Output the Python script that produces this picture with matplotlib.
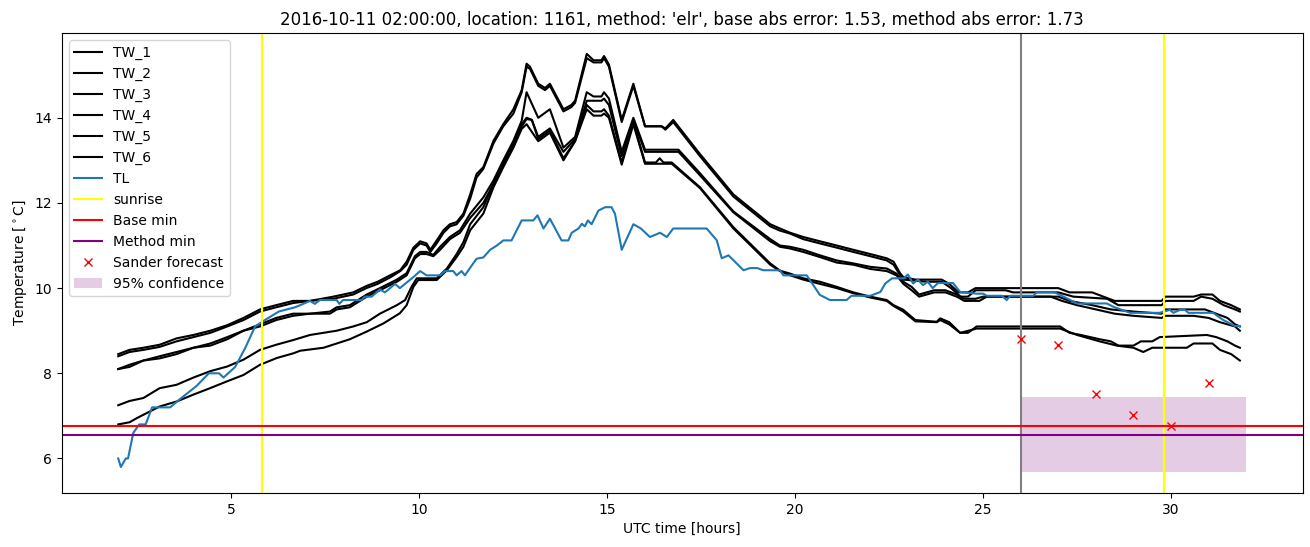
import numpy as np
import matplotlib
matplotlib.use("Agg")
import matplotlib.pyplot as plt

# ---------------- data (hours UTC, temperature degC) ----------------
TW1 = [(2.0, 8.45), (2.3, 8.55), (2.67, 8.6), (3.1, 8.67), (3.55, 8.82), (4.0, 8.9), (4.45, 9.0),
       (4.9, 9.13), (5.33, 9.3), (5.77, 9.5), (6.2, 9.6), (6.65, 9.7), (7.1, 9.7), (7.72, 9.8),
       (8.25, 9.9), (8.6, 10.05), (8.9, 10.15), (9.23, 10.3), (9.5, 10.42), (9.67, 10.62),
       (9.85, 10.95), (10.03, 11.1), (10.2, 11.05), (10.3, 10.9), (10.47, 11.12), (10.65, 11.36),
       (10.82, 11.5), (11.0, 11.55), (11.18, 11.75), (11.36, 12.2), (11.53, 12.68), (11.71, 12.84),
       (11.98, 13.46), (12.24, 13.85), (12.51, 14.2), (12.73, 14.65), (12.86, 15.27), (12.95, 15.2),
       (13.17, 14.8), (13.35, 14.7), (13.48, 14.8), (13.6, 14.6), (13.84, 14.2), (14.05, 14.3),
       (14.15, 14.4), (14.46, 15.5), (14.64, 15.35), (14.85, 15.35), (14.92, 15.45), (15.05, 15.25),
       (15.39, 13.95), (15.7, 14.8), (16.01, 13.8), (16.45, 13.8), (16.55, 13.75), (16.76, 13.95),
       (17.47, 13.15), (18.36, 12.2), (19.34, 11.5), (19.6, 11.4), (19.87, 11.3), (20.22, 11.2),
       (20.66, 11.1), (21.11, 11.0), (21.55, 10.9), (22.0, 10.8), (22.44, 10.7), (22.62, 10.62),
       (22.8, 10.34), (22.88, 10.26), (23.2, 10.2), (23.9, 10.2), (24.1, 10.1), (24.35, 9.9),
       (24.6, 9.9), (24.8, 10.0), (27.0, 10.0), (27.3, 9.9), (27.9, 9.9), (28.2, 9.8), (28.5, 9.7),
       (29.75, 9.7), (29.85, 9.8), (30.6, 9.8), (30.8, 9.85), (31.1, 9.85), (31.3, 9.7), (31.6, 9.6),
       (31.83, 9.5)]
TW2 = [(2.0, 8.4), (2.3, 8.5), (2.67, 8.55), (3.1, 8.62), (3.55, 8.75), (4.0, 8.85), (4.45, 8.95),
       (4.9, 9.1), (5.33, 9.25), (5.77, 9.45), (6.2, 9.55), (6.65, 9.65), (7.1, 9.7), (7.72, 9.75),
       (8.25, 9.85), (8.6, 10.0), (8.9, 10.1), (9.23, 10.25), (9.5, 10.4), (9.67, 10.55),
       (9.85, 10.9), (10.03, 11.05), (10.2, 11.0), (10.3, 10.85), (10.47, 11.05), (10.65, 11.3),
       (10.82, 11.45), (11.0, 11.5), (11.18, 11.7), (11.36, 12.1), (11.53, 12.6), (11.71, 12.8),
       (11.98, 13.4), (12.24, 13.8), (12.51, 14.1), (12.73, 14.6), (12.86, 15.2), (12.95, 15.15),
       (13.17, 14.75), (13.35, 14.65), (13.48, 14.75), (13.6, 14.55), (13.84, 14.15), (14.05, 14.25),
       (14.15, 14.35), (14.46, 15.4), (14.64, 15.3), (14.85, 15.3), (14.92, 15.4), (15.05, 15.2),
       (15.39, 13.9), (15.7, 14.75), (16.01, 13.8), (16.45, 13.8), (16.55, 13.72), (16.76, 13.9),
       (17.47, 13.1), (18.36, 12.15), (19.34, 11.45), (19.6, 11.35), (19.87, 11.28), (20.22, 11.15),
       (20.66, 11.05), (21.11, 10.95), (21.55, 10.85), (22.0, 10.75), (22.44, 10.65), (22.62, 10.55),
       (22.8, 10.3), (22.88, 10.2), (23.5, 10.15), (23.9, 10.15), (24.15, 10.0), (24.4, 9.8),
       (24.6, 9.8), (24.8, 9.95), (25.6, 9.95), (25.8, 9.9), (27.0, 9.9), (27.4, 9.8), (28.3, 9.75),
       (28.6, 9.6), (29.75, 9.6), (29.85, 9.7), (30.6, 9.7), (30.8, 9.8), (31.1, 9.75), (31.4, 9.6),
       (31.7, 9.5), (31.83, 9.45)]
TW3 = [(2.0, 8.1), (2.3, 8.2), (2.67, 8.3), (3.1, 8.4), (3.55, 8.5), (4.0, 8.6), (4.45, 8.7),
       (4.9, 8.85), (5.33, 9.0), (5.77, 9.15), (6.2, 9.3), (6.65, 9.4), (7.1, 9.4), (7.63, 9.45),
       (7.81, 9.55), (8.16, 9.6), (8.61, 9.85), (8.96, 10.0), (9.41, 10.2), (9.67, 10.35),
       (9.89, 10.75), (10.03, 10.85), (10.2, 10.85), (10.38, 10.78), (10.56, 10.97), (10.82, 11.2),
       (11.09, 11.36), (11.36, 11.75), (11.71, 12.13), (11.98, 12.53), (12.24, 13.0), (12.51, 13.46),
       (12.73, 13.93), (12.86, 14.6), (13.17, 14.0), (13.48, 14.2), (13.84, 13.3), (14.15, 13.55),
       (14.46, 14.6), (14.64, 14.5), (14.85, 14.5), (14.92, 14.6), (15.05, 14.45), (15.39, 13.2),
       (15.7, 14.0), (16.01, 13.25), (16.9, 13.25), (17.47, 12.7), (18.36, 11.8), (19.34, 11.15),
       (19.6, 11.0), (19.87, 10.97), (20.22, 10.9), (20.66, 10.77), (21.11, 10.65), (21.55, 10.58),
       (22.0, 10.5), (22.44, 10.46), (22.7, 10.34), (22.88, 10.15), (23.1, 10.03), (23.3, 9.85),
       (23.7, 9.95), (24.0, 9.95), (24.3, 9.85), (24.5, 9.75), (24.8, 9.75), (25.0, 9.8), (27.0, 9.8),
       (27.3, 9.7), (27.9, 9.6), (28.4, 9.5), (29.0, 9.45), (29.75, 9.4), (29.85, 9.5), (30.6, 9.5),
       (30.9, 9.5), (31.2, 9.4), (31.5, 9.3), (31.7, 9.15), (31.83, 9.1)]
TW4 = [(2.0, 8.1), (2.3, 8.15), (2.67, 8.3), (3.1, 8.35), (3.55, 8.45), (4.0, 8.6), (4.45, 8.65),
       (4.9, 8.8), (5.33, 9.0), (5.77, 9.1), (6.2, 9.25), (6.65, 9.35), (7.1, 9.4), (7.63, 9.4),
       (7.81, 9.5), (8.16, 9.55), (8.61, 9.8), (8.96, 9.95), (9.41, 10.15), (9.67, 10.3),
       (9.89, 10.7), (10.03, 10.8), (10.2, 10.8), (10.38, 10.75), (10.56, 10.9), (10.82, 11.15),
       (11.09, 11.3), (11.36, 11.65), (11.71, 12.0), (11.98, 12.45), (12.24, 12.95), (12.51, 13.4),
       (12.73, 13.85), (12.86, 14.0), (13.0, 13.95), (13.17, 13.55), (13.48, 13.75), (13.84, 13.2),
       (14.15, 13.5), (14.46, 14.4), (14.64, 14.4), (14.85, 14.4), (14.92, 14.45), (15.05, 14.3),
       (15.39, 13.1), (15.7, 13.95), (16.01, 13.2), (16.9, 13.2), (17.47, 12.65), (18.36, 11.78),
       (19.34, 11.1), (19.6, 10.97), (19.87, 10.93), (20.22, 10.85), (20.66, 10.73), (21.11, 10.6),
       (21.55, 10.55), (22.0, 10.45), (22.44, 10.4), (22.7, 10.3), (22.88, 10.1), (23.1, 9.95),
       (23.3, 9.8), (23.7, 9.9), (24.0, 9.9), (24.3, 9.8), (24.5, 9.7), (24.9, 9.7), (25.1, 9.8),
       (26.8, 9.8), (27.1, 9.7), (27.5, 9.6), (28.0, 9.5), (28.5, 9.4), (29.0, 9.35), (29.75, 9.3),
       (29.85, 9.35), (30.6, 9.35), (31.0, 9.3), (31.3, 9.2), (31.7, 9.1), (31.83, 9.0)]
TW5 = [(2.0, 7.25), (2.3, 7.35), (2.67, 7.42), (3.1, 7.65), (3.55, 7.73), (4.0, 7.9), (4.45, 8.05),
       (4.9, 8.16), (5.33, 8.32), (5.77, 8.55), (6.2, 8.67), (6.65, 8.78), (7.1, 8.9), (7.81, 9.0),
       (8.25, 9.1), (8.61, 9.2), (8.96, 9.4), (9.41, 9.6), (9.63, 9.72), (9.8, 10.03), (9.94, 10.23),
       (10.47, 10.23), (10.74, 10.46), (11.0, 10.8), (11.18, 11.08), (11.36, 11.5), (11.71, 11.9),
       (11.98, 12.45), (12.24, 12.9), (12.51, 13.35), (12.73, 13.8), (12.86, 13.97), (13.0, 13.95),
       (13.17, 13.5), (13.48, 13.7), (13.84, 13.05), (14.15, 13.45), (14.46, 14.3), (14.64, 14.15),
       (14.85, 14.15), (14.92, 14.2), (15.05, 14.05), (15.39, 12.95), (15.7, 13.9), (16.01, 12.95),
       (16.3, 12.95), (16.4, 13.05), (16.5, 12.95), (16.72, 12.95), (17.47, 12.37), (18.36, 11.43),
       (19.34, 10.58), (19.6, 10.41), (19.87, 10.34), (20.22, 10.23), (20.66, 10.15), (21.11, 10.03),
       (21.55, 9.9), (22.0, 9.8), (22.44, 9.72), (22.62, 9.6), (22.88, 9.49), (23.2, 9.25),
       (23.77, 9.21), (23.86, 9.29), (24.1, 9.2), (24.39, 8.95), (24.6, 8.95), (24.83, 9.1),
       (27.05, 9.1), (27.3, 8.95), (27.6, 8.9), (28.1, 8.8), (28.4, 8.75), (28.6, 8.65), (29.0, 8.65),
       (29.2, 8.75), (29.5, 8.75), (29.7, 8.85), (30.95, 8.9), (31.2, 8.85), (31.5, 8.75),
       (31.7, 8.65), (31.83, 8.6)]
TW6 = [(2.0, 6.8), (2.3, 6.85), (2.5, 6.95), (3.1, 7.22), (3.56, 7.34), (4.0, 7.5), (4.44, 7.65),
       (4.89, 7.81), (5.33, 7.96), (5.77, 8.2), (6.22, 8.36), (6.66, 8.47), (6.84, 8.53), (7.46, 8.6),
       (7.81, 8.7), (8.16, 8.8), (8.61, 8.98), (9.05, 9.17), (9.49, 9.41), (9.67, 9.6), (9.85, 10.03),
       (9.98, 10.19), (10.47, 10.19), (10.74, 10.42), (11.0, 10.73), (11.18, 10.97), (11.36, 11.36),
       (11.71, 11.75), (11.98, 12.37), (12.24, 12.84), (12.51, 13.3), (12.73, 13.74), (12.86, 13.85),
       (13.17, 13.45), (13.48, 13.65), (13.84, 13.0), (14.15, 13.45), (14.46, 14.2), (14.64, 14.05),
       (14.85, 14.05), (14.92, 14.1), (15.05, 14.0), (15.39, 12.9), (15.7, 13.85), (16.01, 12.92),
       (16.72, 12.92), (17.47, 12.35), (18.36, 11.4), (19.34, 10.55), (19.6, 10.4), (19.87, 10.3),
       (20.22, 10.2), (20.66, 10.1), (21.11, 10.0), (21.55, 9.88), (22.0, 9.78), (22.44, 9.7),
       (22.62, 9.58), (22.88, 9.45), (23.2, 9.22), (23.77, 9.2), (23.86, 9.25), (24.1, 9.15),
       (24.39, 8.95), (24.83, 9.05), (27.05, 9.05), (27.5, 8.9), (28.1, 8.75), (28.56, 8.65),
       (29.0, 8.6), (29.26, 8.5), (29.5, 8.6), (30.42, 8.6), (30.6, 8.7), (31.1, 8.7), (31.3, 8.55),
       (31.6, 8.45), (31.83, 8.3)]
TL = [(2.0, 6.0), (2.07, 5.8), (2.2, 6.0), (2.26, 6.0), (2.4, 6.6), (2.56, 6.8), (2.73, 6.8),
      (2.9, 7.2), (3.38, 7.2), (3.65, 7.4), (4.08, 7.7), (4.41, 8.0), (4.68, 8.0), (4.8, 7.9),
      (5.11, 8.15), (5.38, 8.6), (5.64, 9.1), (5.9, 9.25), (6.27, 9.45), (6.7, 9.55), (6.84, 9.6),
      (7.1, 9.7), (7.23, 9.63), (7.36, 9.72), (7.81, 9.72), (7.88, 9.63), (7.98, 9.72), (8.47, 9.72),
      (8.56, 9.8), (8.74, 9.8), (8.96, 9.97), (9.09, 9.9), (9.23, 10.0), (9.36, 10.1), (9.49, 10.0),
      (9.63, 10.1), (9.85, 10.26), (10.03, 10.4), (10.2, 10.3), (10.56, 10.3), (10.69, 10.4),
      (10.91, 10.4), (11.0, 10.3), (11.13, 10.4), (11.22, 10.3), (11.36, 10.48), (11.53, 10.69),
      (11.71, 10.72), (11.89, 10.9), (12.07, 11.0), (12.24, 11.12), (12.46, 11.12), (12.73, 11.59),
      (13.04, 11.59), (13.15, 11.71), (13.31, 11.4), (13.48, 11.63), (13.79, 11.12), (13.97, 11.12),
      (14.06, 11.3), (14.24, 11.4), (14.33, 11.51), (14.41, 11.45), (14.49, 11.59), (14.59, 11.5),
      (14.77, 11.82), (14.95, 11.9), (15.12, 11.9), (15.21, 11.75), (15.39, 10.9), (15.7, 11.5),
      (15.9, 11.4), (16.14, 11.2), (16.41, 11.3), (16.59, 11.2), (16.76, 11.4), (17.65, 11.4),
      (17.92, 11.12), (18.05, 10.7), (18.23, 10.77), (18.63, 10.42), (18.8, 10.47), (19.0, 10.47),
      (19.15, 10.42), (19.6, 10.42), (19.69, 10.3), (20.31, 10.3), (20.66, 9.84), (20.93, 9.72),
      (21.37, 9.72), (21.5, 9.82), (22.0, 9.82), (22.27, 9.91), (22.4, 10.11), (22.58, 10.23),
      (22.88, 10.23), (23.0, 10.32), (23.14, 10.11), (23.27, 10.2), (23.4, 10.07), (23.53, 10.15),
      (23.66, 10.0), (23.8, 10.12), (24.2, 10.12), (24.39, 9.91), (24.83, 9.87), (25.0, 9.87),
      (25.1, 9.82), (25.5, 9.82), (25.63, 9.72), (25.72, 9.82), (26.34, 9.82), (26.43, 9.91),
      (26.88, 9.91), (27.14, 9.8), (27.5, 9.64), (28.29, 9.64), (28.47, 9.56), (28.91, 9.42),
      (29.7, 9.42), (29.97, 9.49), (30.06, 9.42), (30.24, 9.49), (30.37, 9.49), (30.46, 9.42),
      (31.12, 9.42), (31.26, 9.33), (31.39, 9.25), (31.7, 9.11), (31.83, 9.11)]

SUNRISE = [5.82, 29.81]
FORECAST_TIME = 26.0
BASE_MIN = 6.77
METHOD_MIN = 6.56
SANDER_HOURS = [26, 27, 28, 29, 30, 31]
SANDER_TEMPS = [8.8, 8.67, 7.52, 7.03, 6.77, 7.78]
CONF_HOURS = [26, 32]
CONF_LOW = 5.68
CONF_HIGH = 7.44
TITLE = ("2016-10-11 02:00:00, location: 1161, method: 'elr', "
         "base abs error: 1.53, method abs error: 1.73")

# ---------------- plot ----------------
fig = plt.figure(figsize=(13.1, 5.47), dpi=100)
ax = fig.add_axes([0.0472, 0.0987, 0.9472, 0.841])

for name, series in [("TW_1", TW1), ("TW_2", TW2), ("TW_3", TW3),
                     ("TW_4", TW4), ("TW_5", TW5), ("TW_6", TW6)]:
    arr = np.array(series)
    ax.plot(arr[:, 0], arr[:, 1], color="black", label=name)

tl = np.array(TL)
ax.plot(tl[:, 0], tl[:, 1], color="tab:blue", label="TL")

for i, s in enumerate(SUNRISE):
    ax.axvline(s, color="yellow", label="sunrise" if i == 0 else None)
ax.axvline(FORECAST_TIME, color="grey")
ax.axhline(BASE_MIN, color="red", label="Base min")
ax.axhline(METHOD_MIN, color="purple", label="Method min")
ax.plot(SANDER_HOURS, SANDER_TEMPS, "x", color="red", linestyle="none",
        label="Sander forecast")
ax.fill_between(CONF_HOURS, CONF_LOW, CONF_HIGH, color="purple", alpha=0.2,
                linewidth=0, label="95% confidence")

ax.set_title(TITLE)
ax.set_xlabel("UTC time [hours]")
ax.set_ylabel(r"Temperature [$^\circ$C]")
ax.legend(loc="upper left")

fig.savefig("out.png", dpi=100)
